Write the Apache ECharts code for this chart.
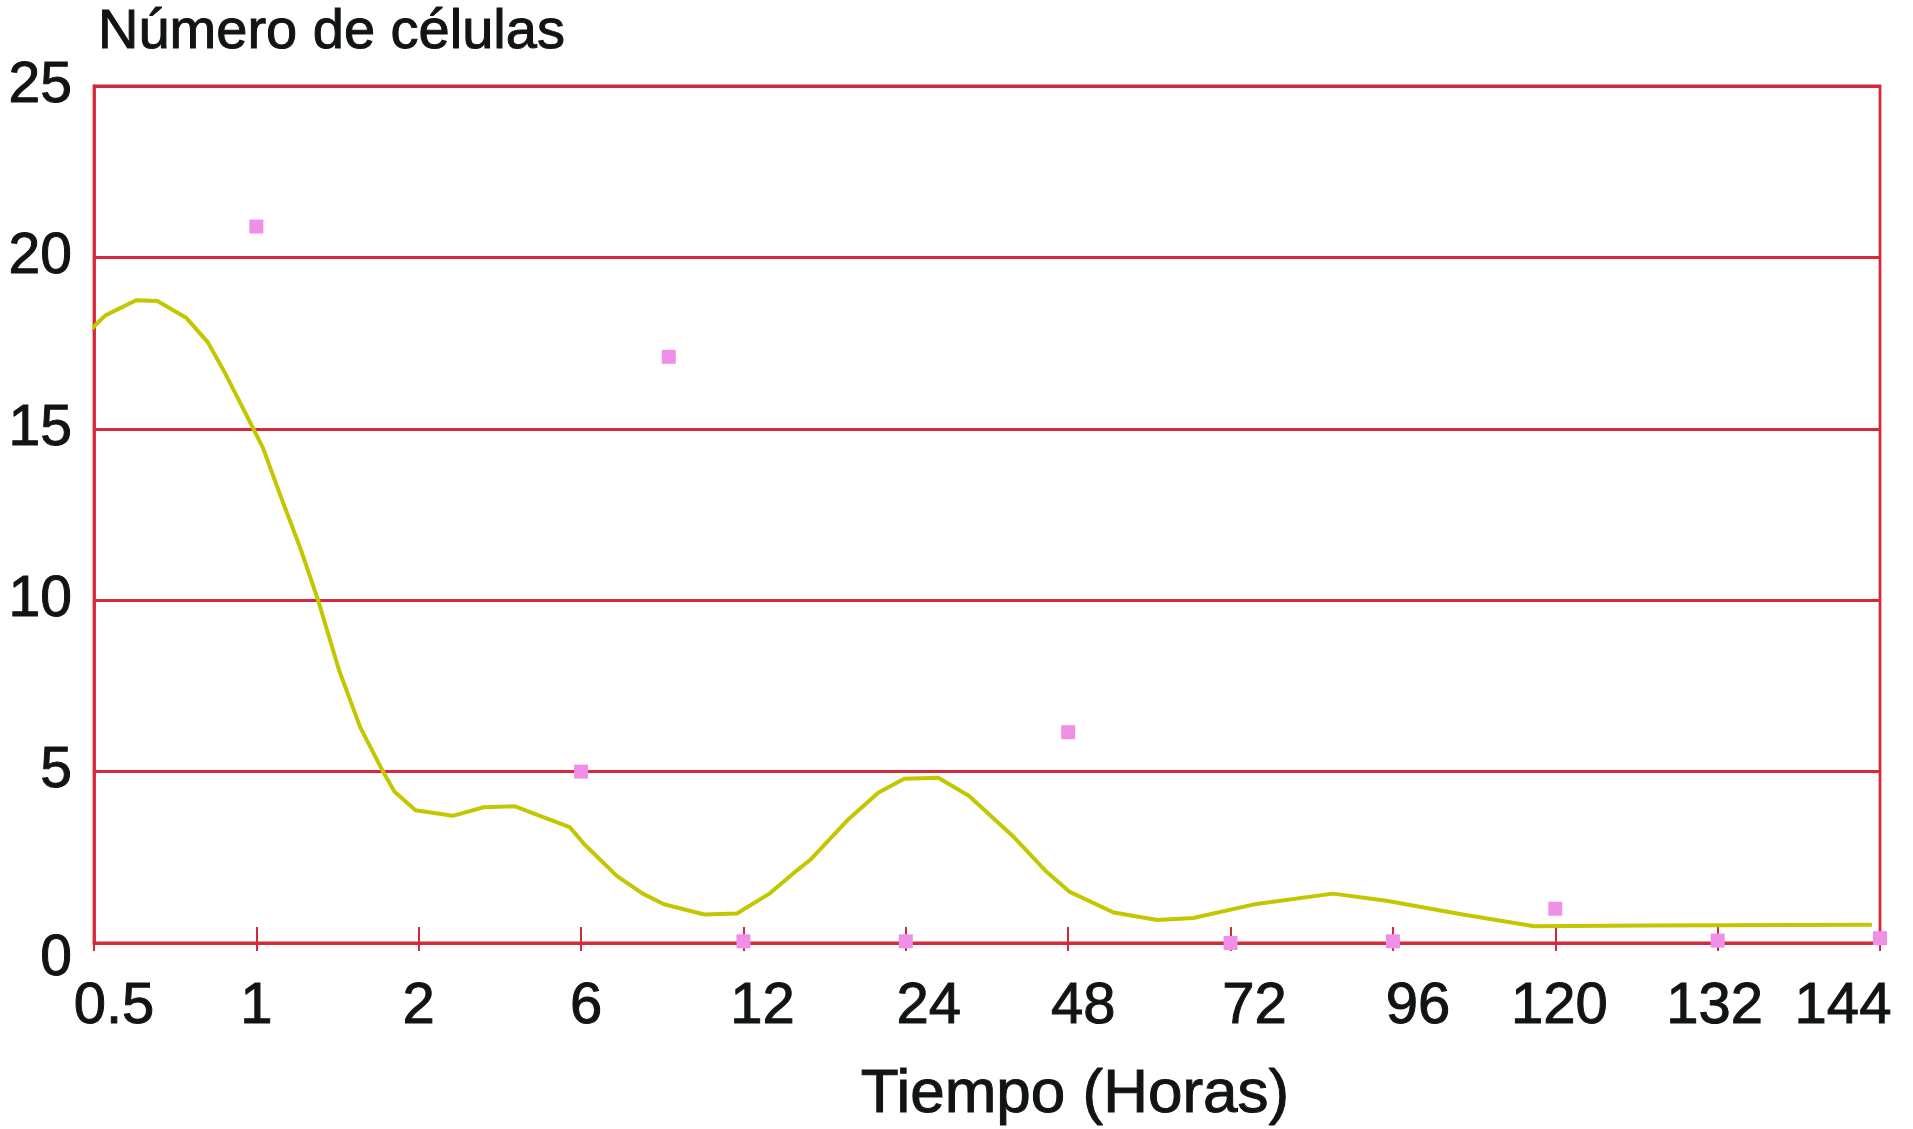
<!DOCTYPE html>
<html>
<head>
<meta charset="utf-8">
<script src="https://cdn.jsdelivr.net/npm/echarts@6/dist/echarts.min.js"></script>
<style>
html,body{margin:0;padding:0;background:#fff;}
#c{width:1913px;height:1129px;}
</style>
</head>
<body>
<div id="c"></div>
<script>
// ---- data ----
var categories = ['0.5','1','2','6','12','24','48','72','96','120','132','144'];
var yTicks = [0, 5, 10, 15, 20, 25];

// measured points (pink squares): position along the category scale and value
var pointPos = [1, 3, 3.54, 4, 5, 6, 7, 8, 9, 10, 11];
var pointVal = [20.9, 5.0, 17.1, 0.05, 0.05, 6.15, 0.0, 0.05, 1.0, 0.07, 0.14];

// smoothed curve (yellow line)
var curvePos = [-0.06, 0.07, 0.26, 0.39, 0.57, 0.70, 0.80, 0.91, 1.04, 1.16, 1.27, 1.38, 1.51, 1.64, 1.78, 1.85, 1.98, 2.21, 2.40, 2.59, 2.73, 2.93, 3.02, 3.22, 3.38, 3.51, 3.76, 3.96, 4.16, 4.33, 4.41, 4.64, 4.83, 4.99, 5.20, 5.39, 5.67, 5.86, 6.01, 6.28, 6.55, 6.77, 7.16, 7.63, 7.96, 8.43, 8.87, 9.56, 10.95];
var curveVal = [17.71, 18.31, 18.75, 18.73, 18.23, 17.53, 16.69, 15.67, 14.45, 12.90, 11.53, 10.0, 7.95, 6.29, 5.0, 4.42, 3.87, 3.71, 3.96, 3.99, 3.74, 3.38, 2.88, 1.96, 1.44, 1.13, 0.83, 0.86, 1.44, 2.12, 2.42, 3.58, 4.38, 4.79, 4.82, 4.29, 3.07, 2.11, 1.49, 0.89, 0.67, 0.73, 1.14, 1.44, 1.23, 0.83, 0.49, 0.51, 0.53];

var yTitle = 'Número de células';
var xTitle = 'Tiempo (Horas)';

// ---- style ----
var RED = '#d42a3c';
var INK = '#111511';
var FONT = '"Liberation Sans", Arial, sans-serif';
var STROKE = 1;
var labelNudge = {'0.5': 20, '6': 5, '12': 19, '24': 23, '48': 15, '72': 24, '96': 25, '120': 4, '132': -3, '144': -37};

var xRich = {};
Object.keys(labelNudge).forEach(function (k, i) {
  var s = labelNudge[k];
  xRich['n' + i] = {
    fontSize: 58, fontFamily: FONT, color: INK, textBorderColor: INK, textBorderWidth: STROKE,
    padding: s >= 0 ? [0, 0, 0, 2 * s] : [0, -2 * s, 0, 0]
  };
});
var nudgeKeys = Object.keys(labelNudge);

var chart = echarts.init(document.getElementById('c'), null, {renderer: 'canvas'});
chart.setOption({
  animation: false,
  backgroundColor: '#fff',
  grid: {left: 94, right: 33, top: 86, bottom: 186, show: true, borderColor: RED, borderWidth: 2.8, backgroundColor: 'transparent'},
  graphic: [
    {type: 'text', x: 98, y: 33, style: {text: yTitle, font: '56px ' + FONT, fill: INK, stroke: INK, lineWidth: STROKE, textAlign: 'left', textVerticalAlign: 'middle'}},
    {type: 'text', x: 1075, y: 1095, style: {text: xTitle, font: '62px ' + FONT, fill: INK, stroke: INK, lineWidth: STROKE, textAlign: 'center', textVerticalAlign: 'middle'}}
  ],
  xAxis: [
    {
      type: 'category', data: categories, boundaryGap: false, position: 'bottom',
      axisLine: {show: true, lineStyle: {color: RED, width: 2.8}},
      axisTick: {show: true, inside: true, length: 16, lineStyle: {color: RED, width: 2}},
      splitLine: {show: false},
      axisLabel: {
        show: true, margin: 35, interval: 0, fontSize: 58, fontFamily: FONT, color: INK,
        textBorderColor: INK, textBorderWidth: STROKE,
        rich: xRich,
        formatter: function (v) {
          var idx = nudgeKeys.indexOf(v);
          return idx >= 0 ? '{n' + idx + '|' + v + '}' : v;
        }
      }
    },
    {
      type: 'value', min: 0, max: 11, interval: 1, position: 'bottom',
      axisLine: {show: false},
      axisTick: {show: true, inside: false, length: 8, lineStyle: {color: RED, width: 2}},
      axisLabel: {show: false},
      splitLine: {show: false}
    }
  ],
  yAxis: {
    type: 'value', min: yTicks[0], max: yTicks[yTicks.length - 1], interval: 5,
    axisLine: {show: true, lineStyle: {color: RED, width: 2.8}},
    axisTick: {show: false},
    splitLine: {show: true, lineStyle: {color: RED, width: 2.8}},
    axisLabel: {
      margin: 22, fontSize: 57, fontFamily: FONT, color: INK,
      textBorderColor: INK, textBorderWidth: STROKE,
      rich: {z: {fontSize: 57, fontFamily: FONT, color: INK, textBorderColor: INK, textBorderWidth: STROKE, padding: [32, 0, 0, 0]}},
      formatter: function (v) { return v === 0 ? '{z|0}' : String(v); }
    }
  },
  series: [
    {
      type: 'line', xAxisIndex: 1, clip: false, smooth: false, showSymbol: false,
      data: curvePos.map(function (x, i) { return [x, curveVal[i]]; }),
      lineStyle: {color: '#c2c700', width: 4},
      z: 3
    },
    {
      type: 'scatter', xAxisIndex: 1, clip: false, symbol: 'rect', symbolSize: 14,
      data: pointPos.map(function (x, i) { return [x, pointVal[i]]; }),
      itemStyle: {color: '#f08fe8', opacity: 1},
      z: 4
    }
  ]
});
</script>
</body>
</html>
